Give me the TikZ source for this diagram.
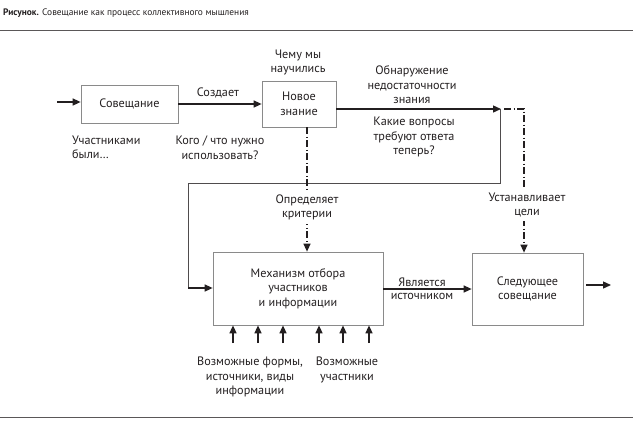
\documentclass[tikz,border=0pt]{standalone}
\usepackage{fontspec}
\setmainfont{PT Sans}
\usetikzlibrary{arrows.meta}
\definecolor{ink}{HTML}{231F20}
\definecolor{frame}{HTML}{8A8A8A}
\tikzset{
  box/.style={draw=frame,line width=0.7pt,inner sep=0pt,align=center,text=ink,font=\fontsize{12.2}{14.5}\selectfont},
  lbl/.style={inner sep=0pt,align=center,text=ink,font=\fontsize{12.2}{14.5}\selectfont},
  arr/.style={draw=ink,line width=1.4pt,-{Triangle[length=8pt,width=7pt]}},
  thin/.style={draw=ink!80,line width=0.6pt},
  dd/.style={draw=ink,line width=1.3pt,dash pattern=on 7pt off 2.5pt on 1pt off 2.5pt},
  ddarr/.style={dd,-{Triangle[length=8pt,width=7pt]}},
}
\begin{document}
\begin{tikzpicture}[x=1pt,y=-1pt]
\useasboundingbox (0,0) rectangle (633,424);
% title and rules
\node[lbl,anchor=west,font=\fontsize{9.4}{12}\selectfont] (title) at (3,13) {\textbf{Рисунок.} Совещание как процесс коллективного мышления};
\coordinate (r1a) at (0,30); \coordinate (r1b) at (633,30);
\coordinate (r2a) at (0,417); \coordinate (r2b) at (633,417);
\draw[draw=ink!75,line width=1pt] (r1a) -- (r1b);
\draw[draw=ink!75,line width=1pt] (r2a) -- (r2b);
% boxes
\node[box,minimum width=97pt,minimum height=38pt] (sov) at (129.5,104) {Совещание};
\node[box,minimum width=74pt,minimum height=46pt] (nz) at (299,104) {Новое\\знание};
\node[box,minimum width=170pt,minimum height=73pt] (mech) at (298,288.5) {Механизм отбора\\участников\\и информации};
\node[box,minimum width=111pt,minimum height=72pt] (sled) at (527.5,289) {Следующее\\совещание};
% coordinates
\coordinate (in0) at (57,102);
\coordinate (c1) at (500,109);
\coordinate (c1b) at (500,183);
\coordinate (c4) at (188,183);
\coordinate (c5) at (188,288);
\coordinate (c2s) at (504,109);
\coordinate (c2) at (524,109);
\coordinate (c3) at (307,0);
\coordinate (out) at (611,285);
% connectors
\draw[arr] (in0) -- (in0 -| sov.west);
\draw[arr] (sov.east) -- (nz.west);
\draw[arr,shorten >=-1pt] (nz.east |- c1) -- (c1);
\draw[thin] (c1) -- (c1b) -- (c4) -- (c5);
\draw[arr] (c5) -- (c5 -| mech.west);
\draw[ddarr] (c2s) -- (c2) -- (c2 |- sled.north);
\draw[ddarr] (c3 |- nz.south) -- (c3 |- mech.north);
\draw[arr] (mech.east |- sled.west) -- (sled.west);
\draw[arr,shorten <=3pt] (out -| sled.east) -- (out);
\foreach \i/\x in {1/233,2/258,3/283,4/319,5/343,6/369}{
  \coordinate (b\i) at (\x,343);
  \draw[arr] (b\i) -- (b\i |- mech.south);
}
% labels
\node[lbl] (l1) at (298,62.5) {Чему мы\\научились};
\node[lbl] (l2) at (218,93) {Создает};
\node[lbl,anchor=west,align=left] (l3) at (72,147.5) {Участниками\\были…};
\node[lbl] (l4) at (220,147.5) {Кого / что нужно\\использовать?};
\node[lbl] (l5) at (412,85) {Обнаружение\\недостаточности\\знания};
\node[lbl] (l6) at (414,137) {Какие вопросы\\требуют ответа\\теперь?};
\node[lbl,fill=white,inner ysep=4pt,inner xsep=1pt] (l7) at (307,207.5) {Определяет\\критерии};
\node[lbl,fill=white,inner ysep=4pt,inner xsep=1pt] (l8) at (527,205) {Устанавливает\\цели};
\node[lbl] (l9) at (422,282.5) {Является};
\node[lbl] (l10) at (422,296) {источником};
\node[lbl] (l11) at (250,377) {Возможные формы,\\источники, виды\\информации};
\node[lbl] (l12) at (347,370) {Возможные\\участники};
\end{tikzpicture}
\end{document}
